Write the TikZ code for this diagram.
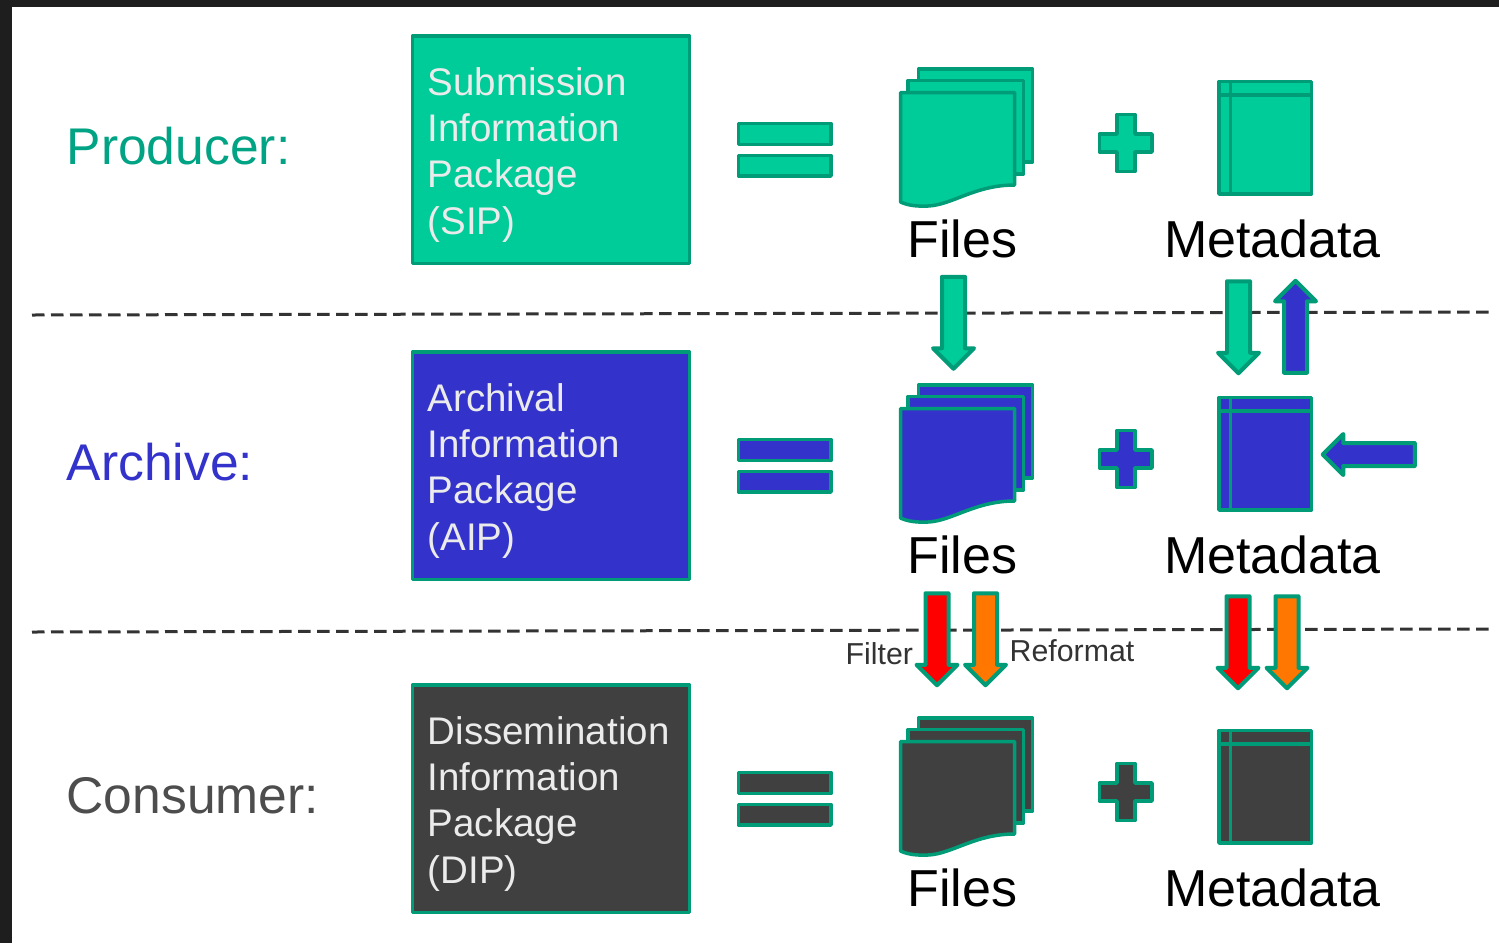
\documentclass[tikz,border=0pt]{standalone}
\usepackage{fontspec}
\setmainfont{Liberation Sans}
\usetikzlibrary{shapes.arrows}
\definecolor{edgegreen}{HTML}{009B77}
\definecolor{fillgreen}{HTML}{00CC99}
\definecolor{fillblue}{HTML}{3333CC}
\definecolor{filldark}{HTML}{404040}
\definecolor{textgreen}{HTML}{00A383}
\definecolor{textgrey}{HTML}{4D4D4D}
\definecolor{pagedark}{HTML}{1E1E1E}
\definecolor{arrred}{HTML}{FF0000}
\definecolor{arrorange}{HTML}{FF7700}
\tikzset{
  shapeline/.style={draw=edgegreen,line width=3.5pt,line join=round},
  pkgbox/.style={shapeline,minimum width=277pt,minimum height=227.5pt,inner sep=0pt,outer sep=0pt,anchor=north west},
  pkgtext/.style={anchor=north west,inner sep=0pt,align=left,text=white!92!black,font=\fontsize{38.5}{46}\selectfont},
  rowlabel/.style={anchor=base west,inner sep=0pt,font=\fontsize{51.6}{60}\selectfont},
  itemlabel/.style={anchor=base,inner sep=0pt,text=black,font=\fontsize{52}{60}\selectfont},
  smalllabel/.style={anchor=base west,inner sep=0pt,text=black!80,font=\fontsize{30.3}{36}\selectfont},
  blockarrow/.style={single arrow,shapeline,line width=4pt,minimum width=39pt,single arrow head extend=9pt,
    single arrow head indent=0pt,inner sep=9.5pt,outer sep=0pt,anchor=center},
  downarrow/.style={blockarrow,shape border rotate=270},
  uparrow/.style={blockarrow,shape border rotate=90},
  leftarrow/.style={blockarrow,shape border rotate=180},
  divider/.style={draw=black!80,line width=3pt,dash pattern=on 12.5pt off 6.5pt}
}
\begin{document}
\begin{tikzpicture}[x=1pt,y=-1pt]
\useasboundingbox (0,0) rectangle (1499,943);
\fill[pagedark] (0,0) rectangle (1499,943);
\fill[white] (12,7) rectangle (1499,943);
% dashed dividers
\coordinate (d1a) at (32,315); \coordinate (d1b) at (1493,312);
\coordinate (d2a) at (32,632); \coordinate (d2b) at (1493,629);
\draw[divider] (d1a) -- (d1b);
\draw[divider] (d2a) -- (d2b);
% the three rows
\foreach \n/\dy/\col/\lab/\labcol/\pkg in {
  1/0/fillgreen/Producer:/textgreen/{Submission\\Information\\Package\\[1.8pt](SIP)},
  2/316/fillblue/Archive:/fillblue/{Archival\\Information\\Package\\[1.8pt](AIP)},
  3/649/filldark/Consumer:/textgrey/{Dissemination\\Information\\Package\\[1.8pt](DIP)}}{
\begin{scope}[yshift=-\dy pt]
  \node[rowlabel,text=\labcol] (label\n) at (66.5,164.3) {\lab};
  \node[pkgbox,fill=\col] (box\n) at (412.5,36) {};
  \node[pkgtext] (pkg\n) at (427.5,67) {\pkg};
  % equals sign
  \draw[shapeline,fill=\col] (738.5,123.5) rectangle (831,144.5);
  \draw[shapeline,fill=\col] (738.5,155.5) rectangle (831,176);
  % stack of files
  \draw[shapeline,fill=\col] (918.5,69) -- (1032.5,69) -- (1032.5,162) -- (918.5,162) -- cycle;
  \draw[shapeline,fill=\col] (908,80.5) -- (1023.5,80.5) -- (1023.5,174) -- (908,174) -- cycle;
  \draw[shapeline,fill=\col] (900.5,92.5) -- (1014.5,92.5) -- (1014.5,185)
     .. controls (975,185) and (952,205) .. (928,206)
     .. controls (917,206.5) and (908,205.5) .. (900.5,202) -- cycle;
  % plus sign
  \draw[shapeline,fill=\col] (1117,114.5) -- (1135,114.5) -- (1135,134) -- (1152,134) -- (1152,152)
     -- (1135,152) -- (1135,171.5) -- (1117,171.5) -- (1117,152) -- (1099.5,152) -- (1099.5,134) -- (1117,134) -- cycle;
  % metadata sheet
  \draw[shapeline,fill=\col] (1219,81.5) rectangle (1311.5,194);
  \draw[shapeline] (1230.5,81.5) -- (1230.5,194);
  \draw[shapeline] (1219,95) -- (1311.5,95);
  \node[itemlabel] (files\n) at (962.5,257) {Files};
  \node[itemlabel] (meta\n) at (1272.5,257) {Metadata};
\end{scope}
}
% block arrows
\node[downarrow,minimum height=92pt,fill=fillgreen] (a1) at (953.5,317) {};
\node[downarrow,minimum height=92pt,fill=fillgreen] (a2) at (1238.5,321.5) {};
\node[uparrow,minimum height=92pt,fill=fillblue] (a3) at (1295.5,332.5) {};
\node[leftarrow,minimum height=92pt,fill=fillblue] (a4) at (1374.5,454.5) {};
\node[downarrow,minimum height=92pt,fill=arrred] (a5) at (937,633.5) {};
\node[downarrow,minimum height=92pt,fill=arrorange] (a6) at (985.5,633.5) {};
\node[downarrow,minimum height=92pt,fill=arrred] (a7) at (1238,636.5) {};
\node[downarrow,minimum height=92pt,fill=arrorange] (a8) at (1287,636.5) {};
\node[smalllabel] (filter) at (845.5,664) {Filter};
\node[smalllabel] (reformat) at (1009.5,661) {Reformat};
\end{tikzpicture}
\end{document}
